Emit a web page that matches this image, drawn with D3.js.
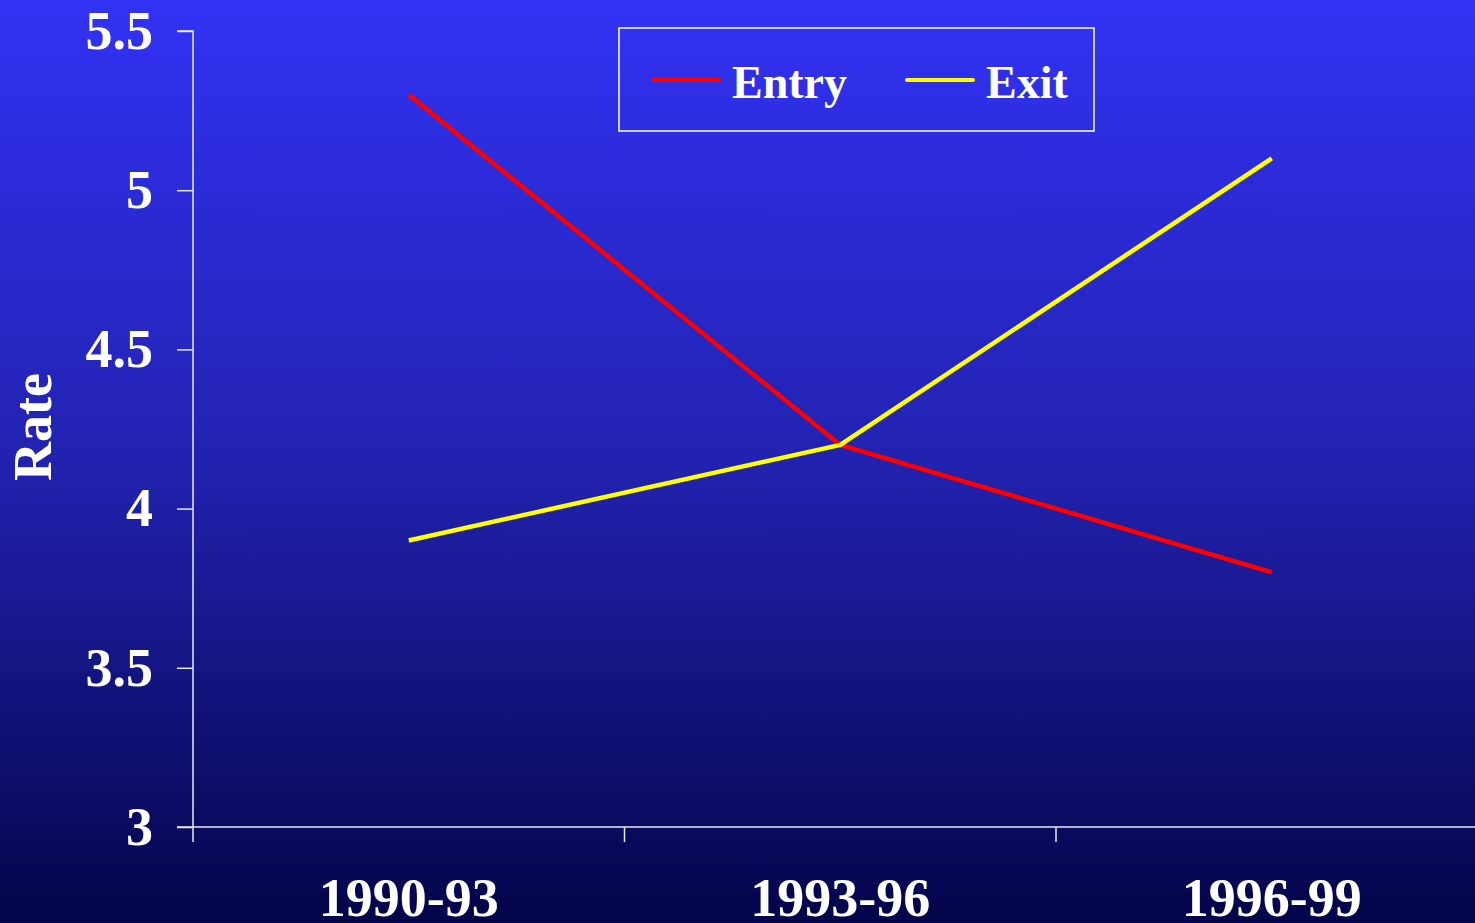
<!DOCTYPE html>
<html><head><meta charset="utf-8">
<script src="https://cdn.jsdelivr.net/npm/d3@7"></script>
<style>html,body{margin:0;padding:0;overflow:hidden;background:#10105a}</style>
</head><body>
<script>
const categories = ["1990-93", "1993-96", "1996-99"];
const entryValues = [5.3, 4.2, 3.8];
const exitValues = [3.9, 4.2, 5.1];
const yTicks = [3, 3.5, 4, 4.5, 5, 5.5];
const seriesNames = ["Entry", "Exit"];
const seriesColors = ["#ff0000", "#ffff00"];

const W = 1475, H = 923;
const svg = d3.select("body").append("svg").attr("width", W).attr("height", H);
const defs = svg.append("defs");
const grad = defs.append("linearGradient").attr("id", "bg").attr("x1", 0).attr("y1", 0).attr("x2", 0).attr("y2", 1);
grad.append("stop").attr("offset", "0%").attr("stop-color", "#3232f4");
grad.append("stop").attr("offset", "50%").attr("stop-color", "#2222b0");
grad.append("stop").attr("offset", "100%").attr("stop-color", "#04044a");
svg.append("rect").attr("width", W).attr("height", H).attr("fill", "url(#bg)");

const x0 = 193, yTop = 31, yBot = 827, band = 431.5;
const x = d3.scaleBand().domain(categories).range([x0, x0 + band * categories.length]).padding(0);
const y = d3.scaleLinear().domain([3, 5.5]).range([yBot, yTop]);

const font = "'Liberation Serif', 'Times New Roman', serif";

// Y axis
const yAxis = svg.append("g").attr("transform", `translate(${x0},0)`)
  .call(d3.axisLeft(y).tickValues(yTicks).tickSize(16).tickPadding(24).tickFormat(d3.format("")));
// X axis
const xAxis = svg.append("g").attr("transform", `translate(0,${yBot})`)
  .call(d3.axisBottom(x).tickSize(0).tickPadding(60));
// category boundary ticks
svg.append("g").selectAll("line").data(categories).join("line")
  .attr("x1", d => x(d)).attr("x2", d => x(d))
  .attr("y1", yBot).attr("y2", yBot + 15)
  .attr("stroke", "#e8e8f0").attr("stroke-width", 1.5);

[yAxis, xAxis].forEach(g => {
  g.selectAll(".domain").attr("stroke", "#e8e8f0").attr("stroke-width", 1.5);
  g.selectAll(".tick line").attr("stroke", "#e8e8f0").attr("stroke-width", 1.5);
  g.selectAll(".tick text").attr("fill", "#ffffff").style("font-family", font)
    .style("font-weight", "bold").style("font-size", "54px");
});
yAxis.select(".domain").attr("d", `M-16,${yTop}H0V${yBot}H-16`);
xAxis.select(".domain").attr("d", `M${x0},0H${W + 20}`);
xAxis.selectAll(".tick text").attr("y", 51).attr("dy", "0.71em");

// Y label
svg.append("text").attr("transform", `translate(51,427) rotate(-90)`)
  .attr("text-anchor", "middle").attr("fill", "#fff")
  .style("font-family", font).style("font-weight", "bold").style("font-size", "54px")
  .text("Rate");

// Lines
const series = [entryValues, exitValues];
const line = d3.line().x((d, i) => x(categories[i]) + x.bandwidth() / 2).y(d => y(d));
series.forEach((vals, i) => {
  svg.append("path").datum(vals).attr("d", line).attr("fill", "none")
    .attr("stroke", seriesColors[i]).attr("stroke-width", 4.5).attr("stroke-linejoin", "miter");
});

// Legend
const lg = svg.append("g");
lg.append("rect").attr("x", 619).attr("y", 28).attr("width", 475).attr("height", 103)
  .attr("fill", "none").attr("stroke", "#ffffff").attr("stroke-width", 1.5);
const legendX = [653, 907];
seriesNames.forEach((name, i) => {
  lg.append("line").attr("x1", legendX[i]).attr("x2", legendX[i] + 66).attr("y1", 80).attr("y2", 80)
    .attr("stroke", seriesColors[i]).attr("stroke-width", 4).attr("stroke-linecap", "round");
  lg.append("text").attr("x", legendX[i] + 79).attr("y", 98).attr("fill", "#fff")
    .style("font-family", font).style("font-weight", "bold").style("font-size", "46px").text(name);
});
</script>
</body></html>
